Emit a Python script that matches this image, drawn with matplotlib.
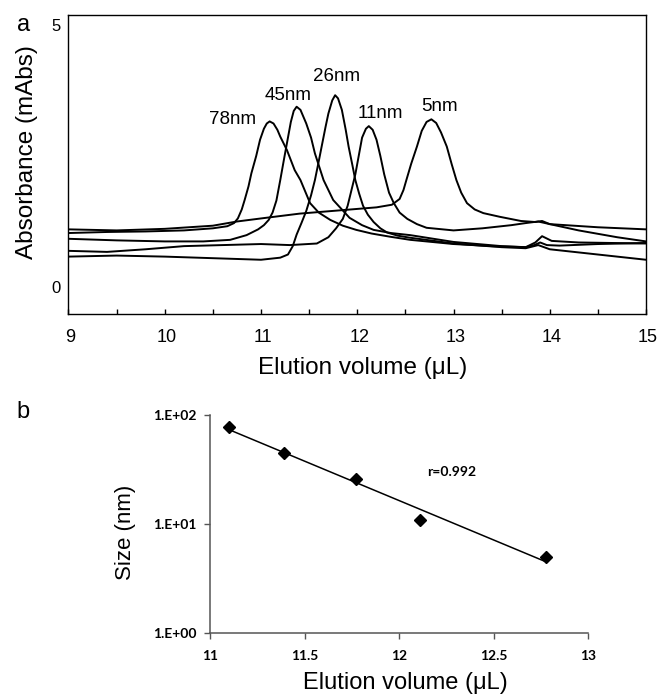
import numpy as np
import matplotlib
matplotlib.use("Agg")
import matplotlib.pyplot as plt
from matplotlib.transforms import ScaledTranslation
from matplotlib.ticker import FixedLocator, FuncFormatter, NullLocator

plt.rcParams["font.family"] = ["Liberation Sans", "DejaVu Sans"]

# Panel a: chromatogram traces (elution volume in uL, absorbance in mAbs)
vol_78 = [9.0, 9.4, 9.8, 10.2, 10.5, 10.65, 10.72, 10.76, 10.80, 10.83, 10.87, 10.90, 10.95,
          10.99, 11.03, 11.06, 11.09, 11.13, 11.17, 11.20, 11.27, 11.35, 11.41, 11.46, 11.51,
          11.60, 11.72, 11.85, 11.99, 12.15, 12.34, 12.55, 13.0, 13.4, 13.75, 13.84, 13.90,
          13.97, 14.1, 14.5, 15.0]
abs_78 = [1.03, 1.05, 1.06, 1.08, 1.12, 1.16, 1.22, 1.31, 1.48, 1.66, 1.92, 2.17, 2.50,
          2.81, 3.02, 3.12, 3.16, 3.12, 3.00, 2.87, 2.61, 2.23, 2.04, 1.82, 1.60,
          1.42, 1.28, 1.17, 1.09, 1.02, 0.96, 0.90, 0.82, 0.78, 0.76, 0.80, 0.85,
          0.80, 0.79, 0.82, 0.84]

vol_45 = [9.0, 9.5, 10.0, 10.4, 10.68, 10.85, 10.97, 11.03, 11.08, 11.12, 11.16, 11.20,
          11.24, 11.28, 11.31, 11.34, 11.37, 11.41, 11.47, 11.52, 11.56, 11.65, 11.75,
          11.92, 12.05, 12.17, 12.35, 12.55, 13.0, 13.5, 13.75, 13.85, 13.92, 14.02, 14.3, 15.0]
abs_45 = [0.92, 0.89, 0.87, 0.87, 0.90, 0.99, 1.10, 1.18, 1.28, 1.42, 1.65, 2.04,
          2.45, 2.85, 3.15, 3.36, 3.44, 3.38, 3.12, 2.85, 2.55, 2.04, 1.66,
          1.32, 1.18, 1.09, 1.03, 0.99, 0.86, 0.78, 0.76, 0.85, 0.97, 0.88, 0.85, 0.83]

vol_26 = [9.0, 9.5, 10.0, 10.5, 11.0, 11.2, 11.28, 11.33, 11.37, 11.42, 11.47, 11.52, 11.56,
          11.60, 11.63, 11.67, 11.70, 11.74, 11.77, 11.80, 11.84, 11.88, 11.91, 11.95, 11.98,
          12.02, 12.06, 12.11, 12.17, 12.24, 12.31, 12.42, 12.55, 13.0, 13.5, 13.75, 13.88,
          14.0, 14.5, 15.0]
abs_26 = [0.58, 0.60, 0.58, 0.55, 0.52, 0.56, 0.62, 0.78, 1.00, 1.22, 1.45, 1.75, 2.04,
          2.40, 2.68, 3.05, 3.31, 3.56, 3.66, 3.60, 3.38, 3.00, 2.68, 2.32, 2.04,
          1.78, 1.55, 1.38, 1.24, 1.12, 1.04, 0.98, 0.94, 0.83, 0.76, 0.74, 0.80,
          0.72, 0.62, 0.52]

vol_11 = [9.0, 9.4, 9.8, 10.2, 10.6, 11.0, 11.3, 11.58, 11.70, 11.78, 11.85, 11.90, 11.94,
          11.98, 12.02, 12.05, 12.09, 12.12, 12.16, 12.20, 12.24, 12.28, 12.33, 12.38, 12.44,
          12.52, 12.62, 12.72, 13.0, 13.3, 13.6, 13.75, 13.88, 14.0, 14.3, 14.7, 15.0]
abs_11 = [0.69, 0.67, 0.72, 0.78, 0.80, 0.82, 0.80, 0.83, 0.95, 1.12, 1.30, 1.55, 1.85,
          2.15, 2.55, 2.85, 3.02, 3.07, 3.00, 2.81, 2.50, 2.15, 1.80, 1.60, 1.42,
          1.30, 1.20, 1.13, 1.08, 1.12, 1.18, 1.22, 1.25, 1.20, 1.08, 0.95, 0.87]

vol_5 = [9.0, 9.5, 10.0, 10.5, 10.75, 11.05, 11.4, 11.8, 12.2, 12.36, 12.44, 12.48, 12.51,
         12.56, 12.62, 12.67, 12.72, 12.77, 12.82, 12.87, 12.93, 12.98, 13.03, 13.08, 13.14,
         13.22, 13.31, 13.48, 13.7, 13.85, 13.92, 14.0, 14.5, 15.0]
abs_5 = [1.10, 1.08, 1.11, 1.17, 1.25, 1.32, 1.40, 1.46, 1.52, 1.57, 1.68, 1.85, 2.04,
         2.35, 2.68, 2.98, 3.15, 3.20, 3.13, 2.95, 2.68, 2.35, 2.04, 1.80, 1.60,
         1.48, 1.41, 1.34, 1.26, 1.24, 1.26, 1.20, 1.14, 1.10]

peak_labels = ["78nm", "45nm", "26nm", "11nm", "5nm"]
label_x = [10.70, 11.28, 11.78, 12.24, 12.85]
label_y = [3.19, 3.66, 4.02, 3.31, 3.45]

# Panel b: calibration
elution = [11.10, 11.39, 11.77, 12.11, 12.78]
size_nm = [78, 45, 26, 11, 5]
r_text = "r=0.992"

fig = plt.figure(figsize=(6.58, 6.95), dpi=100, facecolor="white")

# --- Panel a ---
ax = fig.add_axes([0.1041, 0.5482, 0.8777, 0.4302])
for xs, ys in [(vol_78, abs_78), (vol_45, abs_45), (vol_26, abs_26),
               (vol_11, abs_11), (vol_5, abs_5)]:
    ax.plot(xs, ys, color="black", linewidth=1.4, solid_joinstyle="round")
for txt, tx, ty in zip(peak_labels, label_x, label_y):
    ax.text(tx, ty, txt, fontsize=13.5, ha="center", va="center")

ax.set_xlim(9, 15)
ax.set_ylim(-0.515, 5.19)
ax.xaxis.set_major_locator(FixedLocator(np.arange(9, 15.01, 0.5)))
ax.xaxis.set_major_formatter(FuncFormatter(lambda v, p: f"{v:.0f}" if v == int(v) else ""))
ax.set_yticks([0, 5])
ax.tick_params(axis="x", direction="in", length=3.5, width=1, pad=11, labelsize=13)
ax.tick_params(axis="y", length=0, pad=6, labelsize=12)
offset = ScaledTranslation(1.5 / 72, 0, fig.dpi_scale_trans)
for lab in ax.get_xticklabels():
    lab.set_transform(lab.get_transform() + offset)
for sp in ax.spines.values():
    sp.set_linewidth(1.0)
ax.set_xlabel("Elution volume (\u03bcL)", fontsize=17.5, va="center")
ax.xaxis.set_label_coords(0.509, -0.182)
ax.set_ylabel("Absorbance (mAbs)", fontsize=17.5, va="center")
ax.yaxis.set_label_coords(-0.072, 0.542)

fig.text(24 / 658, 1 - 25 / 695, "a", fontsize=17, ha="center", va="center")

# --- Panel b ---
bx = fig.add_axes([0.3199, 0.0892, 0.5737, 0.3130])
fit = np.polyfit(elution, np.log10(size_nm), 1)
fx = np.array([min(elution), max(elution)])
bx.plot(fx, 10 ** np.polyval(fit, fx), color="black", linewidth=1.1)
bx.plot(elution, size_nm, linestyle="none", marker="D", markersize=6,
        color="black")
bx.text(12.28, 30, r_text, fontsize=10, family="Lato", fontweight="bold",
        ha="center", va="center")

bx.set_yscale("log")
bx.set_ylim(1, 100)
bx.set_xlim(11, 13)
bx.set_xticks([11, 11.5, 12, 12.5, 13])
bx.set_xticklabels(["11", "11.5", "12", "12.5", "13"])
bx.yaxis.set_major_locator(FixedLocator([1, 10, 100]))
bx.yaxis.set_minor_locator(NullLocator())
bx.set_yticklabels(["1.E+00", "1.E+01", "1.E+02"])
for lab in bx.get_xticklabels() + bx.get_yticklabels():
    lab.set_family("Lato")
    lab.set_fontweight("bold")
bx.tick_params(axis="both", direction="out", length=4, width=1, color="#555555",
               labelsize=10)
bx.tick_params(axis="x", pad=8)
bx.tick_params(axis="y", pad=6)
bx.spines["top"].set_visible(False)
bx.spines["right"].set_visible(False)
for side in ("left", "bottom"):
    bx.spines[side].set_color("#555555")
    bx.spines[side].set_linewidth(1.1)
bx.set_xlabel("Elution volume (\u03bcL)", fontsize=17, va="center")
bx.xaxis.set_label_coords(0.515, -0.23)
bx.set_ylabel("Size (nm)", fontsize=16, va="center")
bx.yaxis.set_label_coords(-0.224, 0.464)

fig.text(23 / 658, 1 - 412 / 695, "b", fontsize=17, ha="center", va="center")

fig.savefig("out.png", dpi=100, facecolor="white")
